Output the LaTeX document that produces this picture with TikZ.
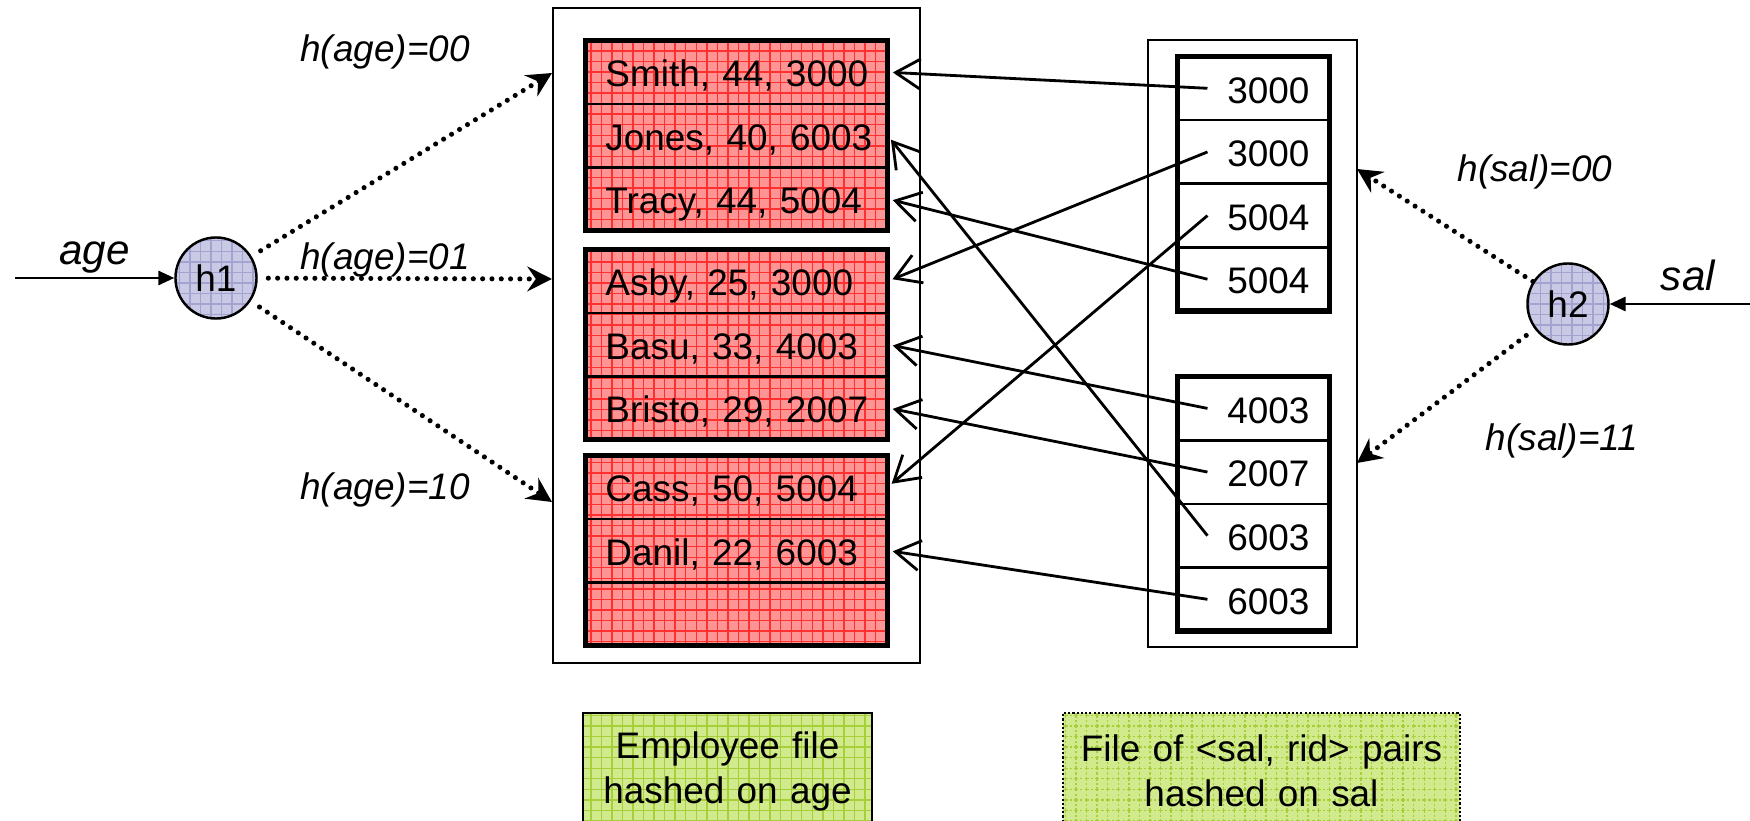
\documentclass[tikz,border=0pt]{standalone}
\usepackage{fontspec}
\setmainfont{Liberation Sans}
\usepackage{tikz}
\usetikzlibrary{arrows.meta,positioning,fit,patterns}
\definecolor{rowfill}{HTML}{FF9494}
\definecolor{rowgrid}{HTML}{FF3030}
\definecolor{hashfill}{HTML}{C9C9E6}
\definecolor{hashgrid}{HTML}{A3A3CF}
\definecolor{notefill}{HTML}{D2EA8E}
\definecolor{notegrid}{HTML}{A6CF3A}

\begin{document}
\begin{tikzpicture}[x=0.01cm, y=-0.01cm,
  every node/.style={font=\fontsize{10.5}{12.4}\selectfont},
  rec/.style={draw, line width=0.75pt, outer sep=0pt, minimum width=3.02cm, minimum height=0.633cm, text width=2.62cm, text height=0.32cm, text depth=0.025cm, inner xsep=0.2cm, inner ysep=0pt, align=left, execute at begin node=\hbox\bgroup, execute at end node=\egroup, preaction={fill=rowfill}, pattern=grid, pattern color=rowgrid},
  ent/.style={draw, line width=0.75pt, outer sep=0pt, minimum width=1.52cm, minimum height=0.636cm, text width=1.12cm, text height=0.32cm, text depth=0.025cm, inner xsep=0.2cm, inner ysep=0pt, align=right},
  bucket/.style={draw, line width=1.5pt, inner sep=0pt},
  frame/.style={draw, line width=0.7pt},
  hash/.style={circle, draw, line width=0.7pt, minimum size=0.81cm, inner sep=0pt, preaction={fill=hashfill}, pattern=grid, pattern color=hashgrid},
  lbl/.style={font=\fontsize{10.5}{12.4}\selectfont\itshape},
  key/.style={font=\fontsize{12}{14}\selectfont\itshape},
  note/.style={draw, line width=0.7pt, anchor=north, align=center, inner ysep=0.1cm, minimum height=1.16cm, font=\fontsize{10.5}{12.8}\selectfont, preaction={fill=notefill}, pattern=grid, pattern color=notegrid},
  ptr/.style={-{Straight Barb[length=7pt, width=8.5pt]}, line width=0.8pt, shorten >=1.5pt},
  hashto/.style={-{Stealth[length=7pt, width=7pt, inset=2.4pt]}, line width=1.45pt, line cap=round, dash pattern=on 0pt off 2.65pt},
  feed/.style={-{Triangle[length=4.5pt, width=4pt]}, line width=0.7pt}
]
  \useasboundingbox (0,0) rectangle (1750,821);

  \node[frame, minimum width=3.67cm, minimum height=6.55cm] (empfile) at (736.5,335.5) {};
  \node[frame, minimum width=2.09cm, minimum height=6.07cm] (salfile) at (1252.5,343.5) {};

  % employee records, three buckets
  \node[rec] (smith) at (736.5,72.2) {Smith, 44, 3000};
  \node[rec, below=0pt of smith] (jones) {Jones, 40, 6003};
  \node[rec, below=0pt of jones] (tracy) {Tracy, 44, 5004};
  \node[rec] (asby) at (736.5,281.2) {Asby, 25, 3000};
  \node[rec, below=0pt of asby] (basu) {Basu, 33, 4003};
  \node[rec, below=0pt of basu] (bristo) {Bristo, 29, 2007};
  \node[rec] (cass) at (736.5,487.2) {Cass, 50, 5004};
  \node[rec, below=0pt of cass] (danil) {Danil, 22, 6003};
  \node[rec, below=0pt of danil] (spare) {};
  \node[bucket, fit=(smith)(tracy)] (age00) {};
  \node[bucket, fit=(asby)(bristo)] (age01) {};
  \node[bucket, fit=(cass)(spare)] (age10) {};

  % <sal, rid> entries, two buckets
  \node[ent] (v1) at (1253.5,88.3) {3000};
  \node[ent, below=0pt of v1] (v2) {3000};
  \node[ent, below=0pt of v2] (v3) {5004};
  \node[ent, below=0pt of v3] (v4) {5004};
  \node[ent] (v5) at (1253.5,408.4) {4003};
  \node[ent, below=0pt of v5] (v6) {2007};
  \node[ent, below=0pt of v6] (v7) {6003};
  \node[ent, below=0pt of v7] (v8) {6003};
  \node[bucket, fit=(v1)(v4)] (sal00) {};
  \node[bucket, fit=(v5)(v8)] (sal11) {};

  \draw[ptr] ([xshift=0.3cm]v1.west) -- (smith.east);
  \draw[ptr] ([xshift=0.3cm]v2.west) -- (asby.east);
  \draw[ptr] ([xshift=0.3cm]v3.west) -- (cass.east);
  \draw[ptr] ([xshift=0.3cm]v4.west) -- (tracy.east);
  \draw[ptr] ([xshift=0.3cm]v5.west) -- (basu.east);
  \draw[ptr] ([xshift=0.3cm]v6.west) -- (bristo.east);
  \draw[ptr] ([xshift=0.3cm]v7.west) -- (jones.east);
  \draw[ptr] ([xshift=0.3cm]v8.west) -- (danil.east);

  % hash functions
  \node[hash] (h1) at (216,278) {h1};
  \node[hash] (h2) at (1568,304) {h2};
  \coordinate (agein) at (15,278);
  \coordinate (salin) at (1750,304);
  \draw[feed] (agein) -- node[key, above, yshift=-0.08cm] (agekey) {age} (h1);
  \draw[feed] (salin) -- node[key, above, xshift=0.08cm] (salkey) {sal} (h2);

  \coordinate (a00) at (552,73);
  \coordinate (a01) at (552,279);
  \coordinate (a10) at (552,502);
  \coordinate (s00) at (1357,169);
  \coordinate (s11) at (1357,463);
  \draw[hashto, shorten <=3pt] (h1) -- (a00);
  \draw[hashto, shorten <=3pt] (h1) -- (a01);
  \draw[hashto, shorten <=3pt] (h1) -- (a10);
  \draw[hashto] (h2) -- (s00);
  \draw[hashto, shorten <=3pt] (h2) -- (s11);

  \node[lbl] (l00) at (385,52) {h(age)=00};
  \node[lbl] (l01) at (385,260) {h(age)=01};
  \node[lbl] (l10) at (385,490) {h(age)=10};
  \node[lbl] (m00) at (1535,172) {h(sal)=00};
  \node[lbl] (m11) at (1562,441) {h(sal)=11};

  \node[note, minimum width=2.89cm, text width=2.5cm] (empnote) at (727.5,712) {Employee file\\hashed on age};
  \node[note, dash pattern=on 0.6pt off 0.6pt, minimum width=3.97cm, text width=3.7cm] (salnote) at (1261.5,712) {File of <sal, rid> pairs\\hashed on sal};
\end{tikzpicture}
\end{document}
